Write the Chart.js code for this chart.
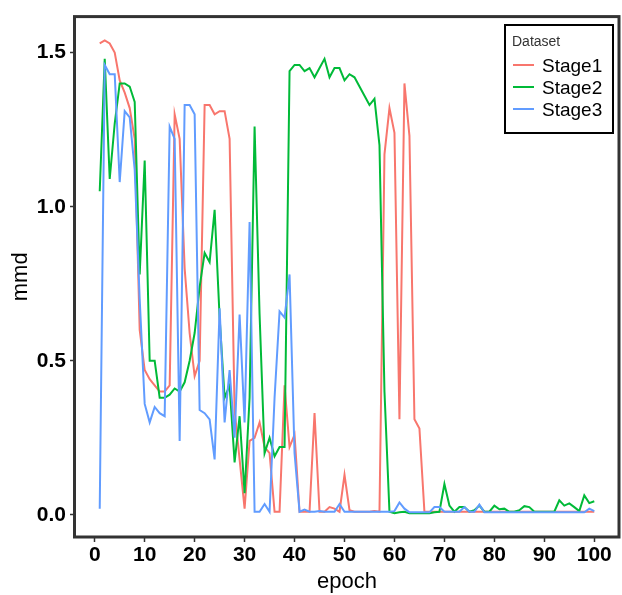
<!DOCTYPE html>
<html>
<head>
<meta charset="utf-8">
<script src="https://cdn.jsdelivr.net/npm/chart.js@4.4.1/dist/chart.umd.min.js"></script>
<style>
  html, body { margin: 0; padding: 0; background: #fff; }
  #wrap { width: 622px; height: 595px; }
</style>
</head>
<body>
<div id="wrap"><canvas id="mmdCanvas" width="622" height="595"></canvas></div>
<script>
// epochs 1..100
const epochs = Array.from({ length: 100 }, (_, i) => i + 1);

const stage1 = [
  1.53, 1.54, 1.53, 1.50, 1.41, 1.37, 1.32, 1.22, 0.60, 0.47,
  0.44, 0.42, 0.40, 0.40, 0.42, 1.30, 1.22, 0.80, 0.59, 0.45,
  0.50, 1.33, 1.33, 1.30, 1.31, 1.31, 1.22, 0.34, 0.18, 0.02,
  0.24, 0.25, 0.30, 0.22, 0.20, 0.01, 0.01, 0.42, 0.22, 0.26,
  0.01, 0.01, 0.01, 0.33, 0.01, 0.01, 0.025, 0.02, 0.01, 0.13,
  0.015, 0.01, 0.01, 0.01, 0.01, 0.012, 0.01, 1.17, 1.32, 1.24,
  0.31, 1.40, 1.23, 0.31, 0.28, 0.01, 0.01, 0.01, 0.01, 0.01,
  0.01, 0.01, 0.01, 0.01, 0.01, 0.01, 0.01, 0.01, 0.01, 0.01,
  0.01, 0.01, 0.01, 0.01, 0.01, 0.01, 0.01, 0.01, 0.01, 0.01,
  0.01, 0.01, 0.01, 0.01, 0.01, 0.01, 0.01, 0.01, 0.01, 0.01
];

const stage2 = [
  1.05, 1.48, 1.09, 1.27, 1.40, 1.40, 1.39, 1.34, 0.78, 1.15,
  0.50, 0.50, 0.38, 0.38, 0.39, 0.41, 0.40, 0.43, 0.50, 0.59,
  0.74, 0.85, 0.82, 0.99, 0.64, 0.38, 0.42, 0.17, 0.32, 0.07,
  0.38, 1.26, 0.65, 0.20, 0.25, 0.19, 0.22, 0.22, 1.44, 1.46,
  1.46, 1.44, 1.45, 1.42, 1.45, 1.48, 1.42, 1.45, 1.45, 1.41,
  1.43, 1.42, 1.39, 1.36, 1.33, 1.35, 1.20, 0.40, 0.01, 0.005,
  0.008, 0.01, 0.005, 0.005, 0.005, 0.005, 0.005, 0.008, 0.01, 0.10,
  0.03, 0.01, 0.025, 0.025, 0.01, 0.015, 0.03, 0.01, 0.01, 0.03,
  0.018, 0.02, 0.01, 0.01, 0.015, 0.028, 0.025, 0.01, 0.01, 0.01,
  0.01, 0.01, 0.047, 0.03, 0.037, 0.025, 0.012, 0.063, 0.038, 0.044
];

const stage3 = [
  0.02, 1.46, 1.43, 1.43, 1.08, 1.31, 1.29, 1.12, 0.70, 0.36,
  0.30, 0.35, 0.33, 0.32, 1.26, 1.22, 0.24, 1.33, 1.33, 1.30,
  0.34, 0.33, 0.31, 0.18, 0.67, 0.30, 0.47, 0.25, 0.65, 0.30,
  0.95, 0.01, 0.01, 0.035, 0.01, 0.38, 0.66, 0.64, 0.78, 0.20,
  0.01, 0.017, 0.01, 0.01, 0.012, 0.01, 0.01, 0.01, 0.035, 0.01,
  0.01, 0.01, 0.01, 0.01, 0.01, 0.01, 0.01, 0.01, 0.01, 0.012,
  0.04, 0.02, 0.008, 0.008, 0.008, 0.008, 0.008, 0.025, 0.025, 0.01,
  0.01, 0.01, 0.01, 0.025, 0.01, 0.01, 0.033, 0.008, 0.008, 0.008,
  0.008, 0.008, 0.008, 0.008, 0.008, 0.008, 0.008, 0.008, 0.008, 0.008,
  0.008, 0.008, 0.008, 0.008, 0.008, 0.008, 0.008, 0.008, 0.02, 0.012
];

const seriesNames = ["Stage1", "Stage2", "Stage3"];
const seriesColors = ["#F8766D", "#00BA38", "#619CFF"];
const xTicks = [0, 10, 20, 30, 40, 50, 60, 70, 80, 90, 100];
const yTicks = [0.0, 0.5, 1.0, 1.5];

const toPoints = (vals) => vals.map((v, i) => ({ x: epochs[i], y: v }));

// panel border + legend inside the panel (ggplot style)
const panelPlugin = {
  id: "panel",
  afterDraw(chart) {
    const { ctx, chartArea: a } = chart;
    ctx.save();
    ctx.strokeStyle = "#333333";
    ctx.lineWidth = 3;
    ctx.strokeRect(a.left - 0.5, a.top, a.right - a.left + 0.5, a.bottom - a.top);

    // legend box
    ctx.fillStyle = "#ffffff";
    ctx.fillRect(505, 25, 108, 108);
    ctx.strokeStyle = "#000000";
    ctx.lineWidth = 2;
    ctx.strokeRect(505, 25, 108, 108);
    ctx.fillStyle = "#333333";
    ctx.font = "14px 'Liberation Sans', Arial, sans-serif";
    ctx.textBaseline = "middle";
    ctx.fillText("Dataset", 512, 42);
    ctx.font = "19px 'Liberation Sans', Arial, sans-serif";
    seriesNames.forEach((name, i) => {
      const y = 67 + i * 22;
      ctx.strokeStyle = seriesColors[i];
      ctx.lineWidth = 2;
      ctx.beginPath();
      ctx.moveTo(513, y - 2);
      ctx.lineTo(534, y - 2);
      ctx.stroke();
      ctx.fillStyle = "#000000";
      ctx.fillText(name, 542, y);
    });
    ctx.restore();
  }
};

const tickFont = { family: "'Liberation Sans', Arial, sans-serif", size: 21, weight: "bold" };
const titleFont = { family: "'Liberation Sans', Arial, sans-serif", size: 22 };

const config = {
  type: "line",
  data: {
    datasets: seriesNames.map((name, i) => ({
      label: name,
      data: toPoints([stage1, stage2, stage3][i]),
      borderColor: seriesColors[i],
      backgroundColor: seriesColors[i],
      borderWidth: 2,
      pointRadius: 0,
      tension: 0,
      order: 3 - i
    }))
  },
  options: {
    responsive: false,
    animation: false,
    layout: { padding: { left: 0, right: 3, top: 11, bottom: 0 } },
    plugins: {
      legend: { display: false },
      tooltip: { enabled: false }
    },
    scales: {
      x: {
        type: "linear",
        min: -3.95,
        max: 104.95,
        afterBuildTicks: (s) => { s.ticks = xTicks.map((v) => ({ value: v })); },
        afterFit: (s) => { s.height = 58; },
        grid: { drawOnChartArea: false, tickLength: 5, tickColor: "#333333", tickWidth: 1.5 },
        border: { display: false },
        ticks: { color: "#000000", font: tickFont, padding: 1, maxRotation: 0 },
        title: { display: true, text: "epoch", color: "#000000", font: titleFont, padding: { top: 0, bottom: 0 } }
      },
      y: {
        min: -0.072,
        max: 1.617,
        afterBuildTicks: (s) => { s.ticks = yTicks.map((v) => ({ value: v })); },
        afterFit: (s) => { s.width = 75; },
        grid: { drawOnChartArea: false, tickLength: 5, tickColor: "#333333", tickWidth: 1.5 },
        border: { display: false },
        ticks: {
          color: "#000000",
          font: tickFont,
          padding: 4,
          callback: (v) => Number(v).toFixed(1)
        },
        title: { display: true, text: "mmd", color: "#000000", font: titleFont, padding: { top: 8, bottom: 0 } }
      }
    }
  },
  plugins: [panelPlugin]
};

const canvas = document.getElementById("mmdCanvas");
new Chart(canvas.getContext("2d"), config);
</script>
</body>
</html>
